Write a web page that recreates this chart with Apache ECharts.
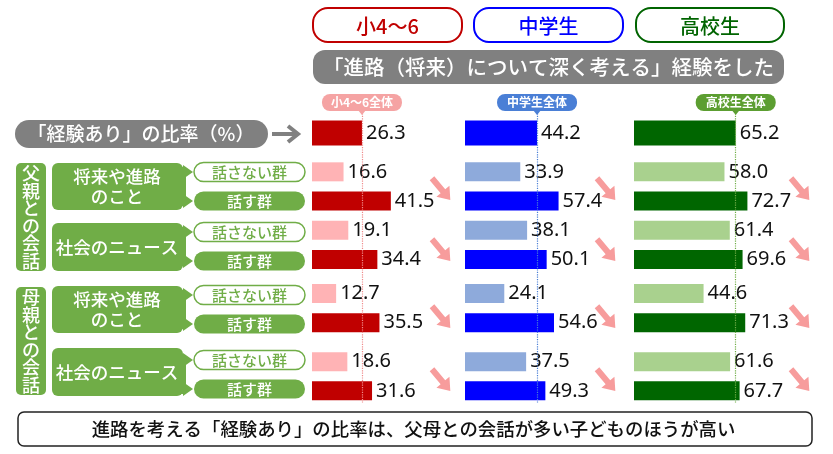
<!DOCTYPE html>
<html><head><meta charset="utf-8">
<script src="https://cdn.jsdelivr.net/npm/echarts@6/dist/echarts.min.js"></script>
<style>html,body{margin:0;padding:0;background:#fff}#c{width:833px;height:454px}</style>
</head><body><div id="c"></div>
<script>
// ---- data ----
const levels = ['小4～6', '中学生', '高校生'];
const overallTags = ['小4～6全体', '中学生全体', '高校生全体'];
const rowNames = ['父・将来や進路・話さない群', '父・将来や進路・話す群', '父・社会のニュース・話さない群', '父・社会のニュース・話す群',
                  '母・将来や進路・話さない群', '母・将来や進路・話す群', '母・社会のニュース・話さない群', '母・社会のニュース・話す群'];
const overallValues = [26.3, 44.2, 65.2];
const elemValues = [16.6, 41.5, 19.1, 34.4, 12.7, 35.5, 18.6, 31.6];
const juniorValues = [33.9, 57.4, 38.1, 50.1, 24.1, 54.6, 37.5, 49.3];
const highValues = [58.0, 72.7, 61.4, 69.6, 44.6, 71.3, 61.6, 67.7];
const seriesValues = [elemValues, juniorValues, highValues];

// ---- layout ----
const FONT = "'Noto Sans CJK JP', sans-serif";
const NUMFONT = "'Noto Sans', 'DejaVu Sans', sans-serif";
const SLOTS = 60;
const rowSlots = [12, 18, 24, 30, 37, 43, 51, 57];
const cols = [
  {left: 312, width: 152, max: 80,  dark: '#c00000', light: '#ffb3b5', line: '#f08a8a', tag: '#f5a3a3', title: '#c00000', arrowX: 441},
  {left: 465, width: 163, max: 100, dark: '#0000ff', light: '#8eaadb', line: '#4a7fd6', tag: '#4a7fd6', title: '#0000ff', arrowX: 606},
  {left: 634, width: 156, max: 100, dark: '#006600', light: '#a9d18e', line: '#70ad47', tag: '#5c9e31', title: '#006400', arrowX: 800}
];
const GREEN = '#70ad47';

const grid = [], xAxis = [], yAxis = [], series = [];
const subCats = Array.from({length: SLOTS}, (_, i) => '_' + i);
rowSlots.forEach((s, i) => { subCats[s] = rowNames[i]; });

cols.forEach((c, ci) => {
  grid.push({left: c.left, width: c.width, top: 120.5, height: 25});
  grid.push({left: c.left, width: c.width, top: 111, height: 292});
  for (let k = 0; k < 2; k++) {
    xAxis.push({type: 'value', gridIndex: ci * 2 + k, min: 0, max: c.max, show: false});
  }
  yAxis.push({type: 'category', gridIndex: ci * 2, data: ['全体'], inverse: true, show: false});
  yAxis.push({type: 'category', gridIndex: ci * 2 + 1, data: subCats, inverse: true, show: false});
  const label = {show: true, position: 'right', distance: 4, fontSize: 20, fontFamily: NUMFONT, color: '#111',
                 formatter: p => Number(p.value).toFixed(1)};
  series.push({
    type: 'bar', name: levels[ci] + '全体', xAxisIndex: ci * 2, yAxisIndex: ci * 2, barWidth: 25, silent: true,
    data: [{value: overallValues[ci], itemStyle: {color: c.dark}}], label
  });
  const data = Array.from({length: SLOTS}, () => '-');
  seriesValues[ci].forEach((v, i) => { data[rowSlots[i]] = {value: v, itemStyle: {color: i % 2 ? c.dark : c.light}}; });
  series.push({
    type: 'bar', name: levels[ci], xAxisIndex: ci * 2 + 1, yAxisIndex: ci * 2 + 1, barWidth: 19, silent: true,
    data, label,
    markLine: {silent: true, symbol: ['none', 'none'], label: {show: false}, animation: false,
               lineStyle: {type: 'dotted', color: c.line, width: 1.2}, data: [{xAxis: overallValues[ci]}]}
  });
});

// ---- decorations ----
const g = [];
function rect(x, y, w, h, r, style, z) { g.push({type: 'rect', shape: {x, y, width: w, height: h, r}, style, z: z || 10}); }
function text(x, y, t, size, fill, extra) {
  g.push({type: 'text', z: 20, style: Object.assign({x, y, text: t, fontSize: size, fontFamily: FONT, fill, fontWeight: 500,
    align: 'center', verticalAlign: 'middle'}, extra || {})});
}
// titles
const titleBoxes = [[313, 149], [474, 149], [636, 148]];
cols.forEach((c, ci) => {
  const [x, w] = titleBoxes[ci];
  rect(x, 8, w, 34, 15, {fill: '#fff', stroke: c.title, lineWidth: 2});
  text(x + w / 2, 26, levels[ci], 20, c.title);
  // tag above overall line
  const lx = c.left + overallValues[ci] / c.max * c.width;
  rect(lx - 40, 94, 80, 17, 8, {fill: c.tag});
  g.push({type: 'polygon', z: 10, shape: {points: [[lx - 4, 110], [lx + 4, 110], [lx, 115]]}, style: {fill: c.tag}});
  text(lx, 102.5, overallTags[ci], 12, '#fff', {fontWeight: 'bold'});
  // arrows
  [189, 250, 317, 380].forEach(cy => {
    const ang = 50 * Math.PI / 180, co = Math.cos(ang), si = Math.sin(ang);
    const pts = [[-14, -3], [3, -3], [3, -8.5], [14.5, 0], [3, 8.5], [3, 3], [-14, 3]]
      .map(([px, py]) => [c.arrowX + px * co - py * si, cy + px * si + py * co]);
    g.push({type: 'polygon', z: 10, shape: {points: pts}, style: {fill: '#f79c9c'}});
  });
});
// banner
rect(313, 50, 471, 34, 12, {fill: '#808080'});
text(548.5, 67, '「進路（将来）について深く考える」経験をした', 20.5, '#fff');
// left gray
rect(15, 120, 253, 28, 14, {fill: '#808080'});
text(141, 134, '「経験あり」の比率（%）', 19, '#fff');
g.push({type: 'polyline', z: 10, shape: {points: [[272, 134], [297, 134]]}, style: {stroke: '#808080', lineWidth: 4}});
g.push({type: 'polyline', z: 10, shape: {points: [[288, 126], [298, 134], [288, 142]]}, style: {stroke: '#808080', lineWidth: 4, fill: null}});
// green side labels
function parentBlock(y0, parent, blocks) {
  rect(16, y0, 30, 108, 5, {fill: GREEN});
  text(31, y0 + 54, parent.split('').join('\n'), 18, '#fff', {lineHeight: 17.5});
  blocks.forEach(b => {
    rect(52, b.y, 131, b.h, 6, {fill: GREEN});
    text(117, b.y + b.h / 2, b.label, 17.5, '#fff', {lineHeight: 20});
    rect(180, b.r1 - 5, 6, b.r2 - b.r1 + 10, 0, {fill: GREEN});
    [b.r1, b.r2].forEach((ry, k) => {
      g.push({type: 'polygon', z: 10, shape: {points: [[183, ry - 7], [193, ry], [183, ry + 7]]}, style: {fill: GREEN}});
      rect(194, ry - 9.5, 111, 19, 9.5, k === 0 ? {fill: '#fff', stroke: GREEN, lineWidth: 1.5} : {fill: GREEN});
      text(249.5, ry, k === 0 ? '話さない群' : '話す群', 15, k === 0 ? GREEN : '#fff');
    });
  });
}
parentBlock(163, '父親との会話', [
  {y: 163, h: 47, label: '将来や進路\nのこと', r1: 172, r2: 201},
  {y: 223, h: 48, label: '社会のニュース', r1: 232, r2: 261}
]);
parentBlock(287, '母親との会話', [
  {y: 286, h: 47, label: '将来や進路\nのこと', r1: 295, r2: 324},
  {y: 348, h: 48, label: '社会のニュース', r1: 360, r2: 389}
]);
// bottom note
rect(18, 412, 794, 34, 6, {fill: '#fff', stroke: '#222', lineWidth: 1.5});
text(413.5, 429, '進路を考える「経験あり」の比率は、父母との会話が多い子どものほうが高い', 18.4, '#111');

const chart = echarts.init(document.getElementById('c'));
chart.setOption({animation: false, grid, xAxis, yAxis, series, graphic: {elements: g}});
</script></body></html>
